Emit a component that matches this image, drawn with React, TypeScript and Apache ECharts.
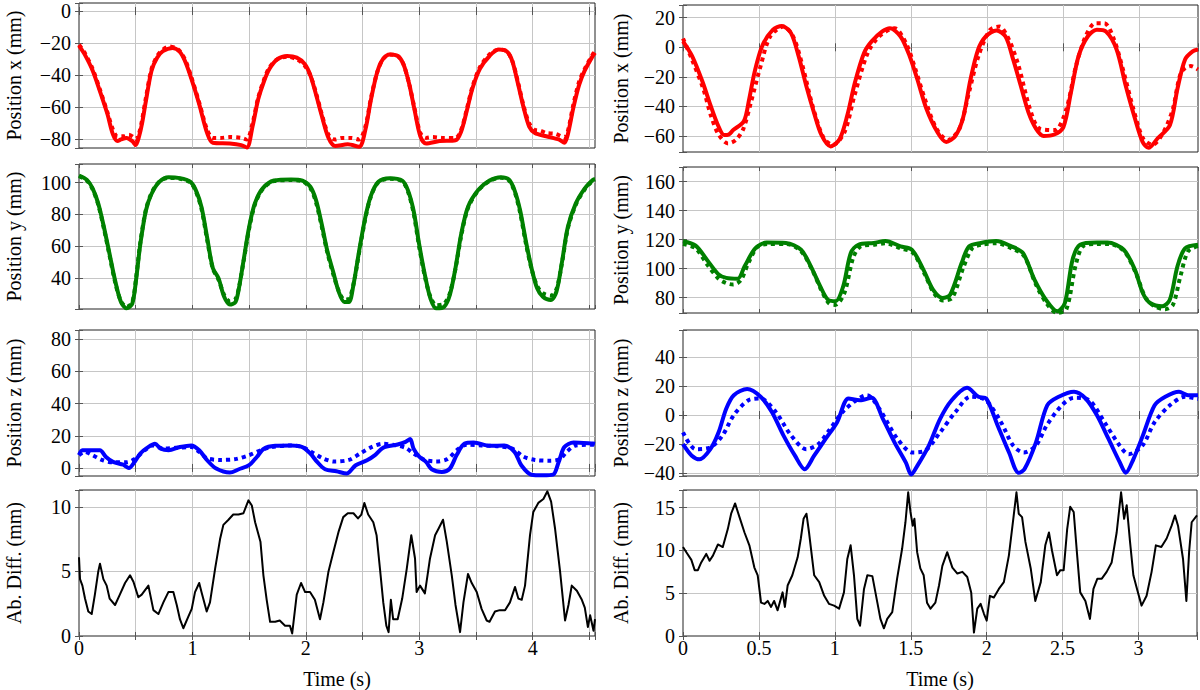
import React, { useEffect, useRef } from 'react';
import * as echarts from 'echarts';

type Pt = [number, number];

// ---------- Left column (0 – 4.55 s) ----------
const leftXSolid: Pt[] = [[0,-21.5],[0.05,-27],[0.12,-37],[0.185,-50],[0.25,-64],[0.3,-77],[0.34,-81],[0.37,-80],[0.42,-79],[0.47,-81],[0.5,-83.5],[0.53,-78],[0.556,-70],[0.59,-56],[0.64,-37],[0.69,-29],[0.74,-25],[0.825,-23],[0.89,-25.5],[0.94,-32],[0.99,-42],[1.06,-58],[1.13,-76],[1.18,-82],[1.33,-82.5],[1.43,-83.5],[1.48,-85],[1.53,-72],[1.58,-55],[1.63,-44],[1.68,-36],[1.75,-30],[1.835,-28],[1.92,-29],[1.99,-33],[2.04,-40],[2.09,-52],[2.14,-65],[2.2,-79],[2.26,-84],[2.37,-83],[2.47,-84.5],[2.525,-74],[2.575,-55],[2.63,-38],[2.68,-30],[2.74,-27],[2.81,-28],[2.86,-33],[2.91,-45],[2.96,-62],[3.01,-78],[3.06,-82.5],[3.18,-81],[3.32,-80.5],[3.37,-75],[3.42,-62],[3.47,-48],[3.535,-36],[3.62,-28],[3.7,-24],[3.77,-25],[3.82,-31],[3.87,-45],[3.92,-60],[3.97,-72],[4.02,-76],[4.12,-78],[4.23,-80],[4.28,-82],[4.31,-77],[4.36,-60],[4.41,-46],[4.46,-37],[4.53,-28],[4.55,-26]];
const leftXDotted: Pt[] = [[0,-21],[0.05,-26],[0.12,-36],[0.185,-49],[0.25,-63],[0.3,-74],[0.34,-78],[0.4,-78],[0.44,-77],[0.48,-78.5],[0.5,-80],[0.53,-76],[0.556,-68],[0.59,-54],[0.64,-36],[0.69,-28],[0.74,-24],[0.8,-22],[0.85,-23],[0.89,-25],[0.94,-31],[0.99,-41],[1.06,-57],[1.13,-74],[1.18,-79],[1.25,-79],[1.33,-78.5],[1.43,-79],[1.48,-80],[1.53,-70],[1.58,-54],[1.63,-43],[1.68,-35],[1.75,-30],[1.835,-28.5],[1.92,-30],[1.99,-34],[2.04,-40],[2.09,-51],[2.14,-64],[2.2,-77],[2.26,-80],[2.32,-79],[2.4,-79],[2.47,-80],[2.525,-72],[2.575,-54],[2.63,-38],[2.68,-30],[2.74,-27],[2.81,-28],[2.86,-33],[2.91,-45],[2.96,-61],[3.01,-76],[3.06,-79],[3.12,-78.5],[3.2,-79],[3.32,-79],[3.37,-74],[3.42,-61],[3.47,-47],[3.535,-35],[3.62,-27],[3.7,-24],[3.77,-25],[3.82,-31],[3.87,-44],[3.92,-59],[3.97,-70],[4.02,-74],[4.07,-74.5],[4.12,-76],[4.2,-76.5],[4.25,-78],[4.28,-79],[4.31,-75],[4.36,-58],[4.41,-44],[4.46,-36],[4.53,-27],[4.55,-25]];

const leftYSolid: Pt[] = [[0,104.5],[0.07,101.7],[0.12,96.4],[0.17,86.8],[0.22,72],[0.27,55],[0.32,38],[0.37,25],[0.42,21],[0.47,24],[0.505,40],[0.54,61],[0.59,82.5],[0.64,93],[0.71,100.6],[0.79,103.4],[0.89,102.8],[0.98,100.6],[1.03,95.3],[1.08,84.7],[1.13,65.5],[1.18,46.4],[1.23,40],[1.28,28.3],[1.33,23.4],[1.38,25],[1.41,33.6],[1.45,50.6],[1.5,72],[1.55,86.8],[1.62,96.4],[1.72,101.3],[1.87,102],[1.97,101.3],[2.04,97.4],[2.09,89],[2.14,74],[2.19,57],[2.24,44.3],[2.29,31.5],[2.34,25],[2.38,25],[2.42,35.7],[2.47,57],[2.525,78.3],[2.575,92],[2.64,100.6],[2.74,102.8],[2.85,101.3],[2.9,95.3],[2.95,82.5],[3.0,61],[3.05,42],[3.1,27],[3.15,21],[3.22,22],[3.27,29.4],[3.32,46.4],[3.37,67.7],[3.43,84.7],[3.52,95.3],[3.62,101.3],[3.72,103.4],[3.79,102],[3.84,95.3],[3.89,82.5],[3.94,63.4],[3.99,46.4],[4.04,33.6],[4.09,28.3],[4.16,26.2],[4.21,31.5],[4.26,50.6],[4.31,72],[4.38,86.8],[4.46,96.4],[4.53,101.7],[4.55,102.3]];
const leftYDotted: Pt[] = [[0,104],[0.07,101.2],[0.12,95.8],[0.17,86],[0.22,71],[0.27,54],[0.32,37],[0.37,25.5],[0.42,22],[0.47,25],[0.505,41],[0.54,62],[0.59,83],[0.64,93.5],[0.71,100.8],[0.79,103],[0.89,102.4],[0.98,100.2],[1.03,94.5],[1.08,83.5],[1.13,64],[1.18,46],[1.23,39],[1.28,29.5],[1.33,25.5],[1.38,27],[1.41,34],[1.45,50],[1.5,71],[1.55,86],[1.62,96],[1.72,101],[1.87,101.6],[1.97,100.8],[2.04,96.5],[2.09,87.5],[2.14,72.5],[2.19,56],[2.24,43],[2.29,32],[2.34,26.5],[2.38,27],[2.42,36],[2.47,56],[2.525,77.5],[2.575,91.5],[2.64,100.2],[2.74,102.4],[2.85,100.8],[2.9,94.5],[2.95,81],[3.0,59.5],[3.05,41],[3.1,28],[3.15,23],[3.22,24],[3.27,30.5],[3.32,46],[3.37,66.5],[3.43,84],[3.52,95],[3.62,101],[3.72,103],[3.79,101.5],[3.84,94.5],[3.89,81],[3.94,62],[3.99,46],[4.04,35],[4.09,30.5],[4.16,29],[4.21,33],[4.26,50],[4.31,71],[4.38,86],[4.46,95.8],[4.53,101.2],[4.55,101.8]];

const leftZSolid: Pt[] = [[0,8],[0.03,11],[0.12,11],[0.185,11],[0.236,7],[0.3,3.75],[0.39,2],[0.44,0],[0.49,3.75],[0.54,9],[0.61,13],[0.67,15],[0.72,12],[0.79,11],[0.89,13],[0.99,14],[1.06,11],[1.13,4.8],[1.21,-0.4],[1.33,-2.9],[1.41,-0.8],[1.5,1.7],[1.57,7],[1.63,12],[1.73,13.75],[1.87,14],[1.97,13],[2.04,9],[2.1,3.75],[2.17,-0.8],[2.27,-2],[2.36,-3.5],[2.44,1.7],[2.54,4.8],[2.61,8],[2.68,12.5],[2.81,14.6],[2.88,16.25],[2.92,18],[2.95,12],[3.0,7],[3.06,3.75],[3.11,-0.8],[3.2,-2.5],[3.27,-0.4],[3.33,8],[3.4,15.2],[3.48,15.8],[3.62,13.75],[3.75,14],[3.84,10],[3.9,1.7],[3.99,-4.2],[4.09,-4.6],[4.18,-4.2],[4.23,3.75],[4.28,13],[4.36,15.8],[4.53,15.2],[4.55,15]];
const leftZDotted: Pt[] = [[0,8],[0.05,10],[0.12,8],[0.2,5],[0.3,3.5],[0.42,3.5],[0.5,6],[0.58,11],[0.65,14],[0.75,12],[0.85,12.5],[0.99,13],[1.06,10],[1.13,6],[1.25,5],[1.38,5.5],[1.5,8],[1.6,11],[1.7,13],[1.87,14],[1.97,13],[2.05,10],[2.15,6],[2.25,4],[2.38,5],[2.48,9],[2.58,13],[2.68,15],[2.8,14],[2.88,12.5],[2.95,9],[3.05,5],[3.15,4],[3.25,5.5],[3.33,11],[3.42,14.5],[3.55,14],[3.7,13.5],[3.82,12],[3.92,7],[4.02,5],[4.15,4.5],[4.24,5.5],[4.3,10],[4.38,14],[4.55,14.5]];

const leftDiff: Pt[] = [[0,6.1],[0.009,4.4],[0.03,3.9],[0.053,2.9],[0.082,1.9],[0.112,1.7],[0.14,3.2],[0.17,5.0],[0.185,5.6],[0.215,4.4],[0.244,3.9],[0.27,2.9],[0.318,2.4],[0.36,3.2],[0.406,4.1],[0.45,4.7],[0.48,4.2],[0.523,3.0],[0.553,3.2],[0.612,3.9],[0.656,2.0],[0.7,1.7],[0.744,2.6],[0.788,3.4],[0.832,3.4],[0.862,2.4],[0.89,1.3],[0.92,0.6],[0.964,1.5],[0.994,2.1],[1.023,3.4],[1.06,4.1],[1.08,3.4],[1.126,1.9],[1.155,2.6],[1.2,5.2],[1.244,7.5],[1.273,8.6],[1.318,9.0],[1.36,9.4],[1.406,9.4],[1.45,9.5],[1.494,10.5],[1.524,10.1],[1.553,8.8],[1.6,7.3],[1.626,4.7],[1.655,2.8],[1.685,1.1],[1.73,1.1],[1.77,1.2],[1.817,0.8],[1.86,0.8],[1.88,0.2],[1.92,3.2],[1.958,4.1],[1.994,3.4],[2.037,3.4],[2.08,2.8],[2.125,1.3],[2.155,2.6],[2.2,5.0],[2.243,6.5],[2.29,8.1],[2.33,9.2],[2.37,9.5],[2.42,9.5],[2.46,9.1],[2.49,9.4],[2.516,10.3],[2.55,9.4],[2.595,8.8],[2.624,7.8],[2.654,5.2],[2.683,2.6],[2.71,0.8],[2.73,0.3],[2.75,2.8],[2.77,1.3],[2.81,1.3],[2.85,2.9],[2.89,5.2],[2.93,7.8],[2.963,6.0],[2.977,3.4],[3.007,3.9],[3.05,3.3],[3.095,6.0],[3.14,7.8],[3.17,8.3],[3.21,9.0],[3.243,7.3],[3.287,4.7],[3.32,2.4],[3.36,0.3],[3.39,2.6],[3.43,4.8],[3.463,4.1],[3.507,3.4],[3.55,2.1],[3.595,1.2],[3.62,1.1],[3.668,1.9],[3.71,2.0],[3.757,2.0],[3.8,2.6],[3.845,3.8],[3.874,2.9],[3.904,2.8],[3.933,3.9],[3.977,7.8],[4.006,9.6],[4.05,10.3],[4.095,10.6],[4.13,11.2],[4.163,10.4],[4.198,8.3],[4.242,5.0],[4.286,1.2],[4.316,2.4],[4.345,3.9],[4.39,3.5],[4.434,2.8],[4.46,2.2],[4.487,0.7],[4.507,1.6],[4.537,0.4],[4.55,1.3]];

// ---------- Right column (0 – 3.385 s) ----------
const rightXSolid: Pt[] = [[0,4],[0.06,-6],[0.13,-23.8],[0.18,-39],[0.23,-52.7],[0.27,-59.3],[0.3,-59],[0.33,-56],[0.4,-50],[0.435,-35],[0.47,-17],[0.52,0.7],[0.59,11.8],[0.65,14.4],[0.71,9.6],[0.76,-6],[0.81,-26],[0.86,-43.8],[0.91,-59.3],[0.97,-67],[1.03,-62],[1.08,-46],[1.13,-23.8],[1.19,-3.8],[1.24,4],[1.31,10.7],[1.36,12.9],[1.43,7.3],[1.49,-6],[1.54,-21.6],[1.6,-41.6],[1.67,-57],[1.73,-64],[1.79,-60],[1.84,-48],[1.89,-21.6],[1.94,-1.5],[1.99,7.3],[2.06,11.3],[2.12,7.3],[2.17,-8.2],[2.22,-26],[2.27,-43.8],[2.32,-55],[2.37,-60],[2.44,-59],[2.5,-54],[2.55,-30.4],[2.6,-6],[2.66,7.3],[2.72,11.8],[2.78,10.7],[2.85,-1.5],[2.91,-26],[2.97,-48],[3.02,-63.8],[3.06,-68],[3.12,-61.5],[3.2,-52.7],[3.25,-28],[3.3,-8.2],[3.35,-2.7],[3.385,-1.5]];
const rightXDotted: Pt[] = [[0,6],[0.058,-8],[0.133,-28],[0.183,-46],[0.234,-59],[0.296,-65],[0.347,-62.7],[0.397,-55],[0.447,-37],[0.51,-12.7],[0.573,7.3],[0.66,14],[0.724,7.3],[0.786,-12.7],[0.85,-39],[0.925,-61.5],[0.987,-66],[1.063,-57],[1.126,-33],[1.214,-3.8],[1.289,7.3],[1.39,12.9],[1.465,2.9],[1.528,-15],[1.59,-35],[1.666,-55],[1.741,-62.7],[1.817,-55],[1.88,-30.4],[1.942,-6],[2.018,11.8],[2.08,14],[2.143,5],[2.206,-12.7],[2.28,-41.6],[2.344,-55],[2.445,-56],[2.52,-41.6],[2.583,-12.7],[2.646,7.3],[2.709,16.2],[2.77,16.2],[2.834,5],[2.897,-17],[2.96,-41.6],[3.023,-61.5],[3.085,-66],[3.16,-57],[3.22,-41.6],[3.274,-17],[3.337,-12.7],[3.385,-15]];

const rightYSolid: Pt[] = [[0,118.9],[0.083,115.9],[0.158,106],[0.234,96],[0.284,93.6],[0.359,93],[0.405,101.6],[0.475,114],[0.55,118],[0.676,117.7],[0.776,113],[0.84,101.6],[0.902,87.8],[0.952,78.6],[1.003,77.5],[1.053,87.8],[1.103,110.8],[1.153,116.5],[1.254,117.7],[1.33,119],[1.43,115.4],[1.505,113],[1.58,99.3],[1.643,85.5],[1.706,79.8],[1.756,82],[1.832,104],[1.88,115.4],[1.957,117.7],[2.058,119],[2.158,115.4],[2.234,110.8],[2.31,92.4],[2.385,78.6],[2.46,70.6],[2.51,76.3],[2.56,106],[2.61,116.5],[2.72,118],[2.79,118],[2.897,113],[2.97,99.3],[3.023,83],[3.07,76.3],[3.15,74],[3.2,78.6],[3.25,101.6],[3.3,114],[3.385,116.5]];
const rightYDotted: Pt[] = [[0,117],[0.083,114],[0.158,103],[0.234,93],[0.284,90],[0.33,89],[0.38,92],[0.43,104],[0.49,115],[0.56,117],[0.68,117],[0.776,112],[0.85,99],[0.91,85],[0.96,76],[1.0,75],[1.06,83],[1.12,108],[1.17,115.5],[1.26,116.5],[1.33,117.5],[1.43,114],[1.51,111],[1.59,96],[1.65,83],[1.71,78],[1.77,80],[1.84,100],[1.9,114],[1.96,116.5],[2.06,117.5],[2.16,114],[2.24,109],[2.32,89],[2.39,76],[2.46,69.5],[2.52,72],[2.58,102],[2.63,115.5],[2.72,117],[2.8,117],[2.9,112],[2.98,96],[3.04,80],[3.1,74],[3.17,72],[3.22,75],[3.27,95],[3.32,112],[3.385,115.5]];

const rightZSolid: Pt[] = [[0,-20],[0.058,-28],[0.108,-30.5],[0.18,-23.5],[0.234,-11.9],[0.284,4.4],[0.334,13.7],[0.422,17.9],[0.51,12.6],[0.585,2],[0.66,-14],[0.736,-28],[0.8,-37.4],[0.862,-28],[0.937,-16.5],[1.013,-4.9],[1.088,11.4],[1.163,10.2],[1.239,11.9],[1.314,-2.6],[1.39,-18.8],[1.465,-32.8],[1.5,-41],[1.54,-35],[1.616,-21],[1.69,-2.6],[1.766,10.2],[1.867,18.8],[1.942,12.6],[1.993,11.4],[2.068,-7.2],[2.143,-25.8],[2.206,-39.8],[2.244,-37.4],[2.32,-18.8],[2.394,6.7],[2.47,12.6],[2.57,16],[2.646,11.4],[2.72,0],[2.797,-16.5],[2.872,-32.8],[2.91,-39.8],[2.96,-30.5],[3.023,-14],[3.1,6.7],[3.17,12.6],[3.26,16],[3.32,13.7],[3.385,13.7]];
const rightZDotted: Pt[] = [[0,-11.9],[0.083,-23.5],[0.18,-22.3],[0.26,-14],[0.334,0],[0.43,10.2],[0.51,11.4],[0.61,2],[0.71,-14],[0.81,-23.5],[0.89,-20],[0.96,-10.7],[1.06,3.3],[1.21,13.7],[1.29,4.4],[1.41,-16.5],[1.51,-25.8],[1.59,-24.6],[1.69,-11.9],[1.79,2],[1.89,12.6],[1.99,10.2],[2.09,-4.9],[2.17,-21],[2.24,-25.8],[2.32,-21],[2.39,-7.2],[2.49,6.7],[2.57,11.9],[2.67,10.2],[2.77,-4.9],[2.87,-21],[2.93,-27],[3.02,-21],[3.1,-4.9],[3.2,6.7],[3.3,12.6],[3.385,11]];

const rightDiff: Pt[] = [[0,10.4],[0.022,9.8],[0.055,8.9],[0.077,7.7],[0.098,7.7],[0.12,8.6],[0.153,9.6],[0.175,8.8],[0.197,9.4],[0.23,10.7],[0.262,10.4],[0.295,12.5],[0.317,14.3],[0.343,15.5],[0.372,13.9],[0.405,12.1],[0.437,10.6],[0.47,8.0],[0.492,7.1],[0.514,3.9],[0.536,3.75],[0.558,4.1],[0.58,3.4],[0.6,4.1],[0.623,3.0],[0.656,5.1],[0.671,3.4],[0.689,5.9],[0.72,7.1],[0.755,9.2],[0.776,11.4],[0.794,13.7],[0.813,14.3],[0.83,12.1],[0.864,7.1],[0.897,6.3],[0.93,4.7],[0.962,3.75],[0.995,3.55],[1.028,3.2],[1.06,5.1],[1.082,9.0],[1.104,10.6],[1.126,7.1],[1.148,2.0],[1.166,1.2],[1.192,5.5],[1.214,7.1],[1.247,7.0],[1.28,3.9],[1.3,2.0],[1.323,0.9],[1.345,2.0],[1.378,2.8],[1.41,6.7],[1.443,10.2],[1.465,13.3],[1.483,16.8],[1.498,14.5],[1.513,12.9],[1.524,13.7],[1.542,9.8],[1.563,7.9],[1.585,7.1],[1.607,3.9],[1.63,3.2],[1.662,3.9],[1.686,5.9],[1.708,8.2],[1.74,9.8],[1.774,8.0],[1.807,7.3],[1.84,7.5],[1.872,6.9],[1.898,5.1],[1.916,0.4],[1.938,3.2],[1.96,3.75],[1.982,2.6],[2.0,1.8],[2.021,4.7],[2.047,4.5],[2.08,5.5],[2.113,6.3],[2.146,9.4],[2.178,14.1],[2.196,16.8],[2.211,14.3],[2.233,13.9],[2.255,11.0],[2.29,7.9],[2.32,4.1],[2.356,6.3],[2.386,10.6],[2.41,12.1],[2.43,10.0],[2.463,7.1],[2.485,7.7],[2.507,7.7],[2.53,12.5],[2.55,15.1],[2.573,14.5],[2.594,9.8],[2.616,5.1],[2.65,4.1],[2.68,2.0],[2.703,5.5],[2.729,6.7],[2.758,6.7],[2.79,7.5],[2.823,8.6],[2.856,12.1],[2.885,16.8],[2.905,13.7],[2.922,15.3],[2.944,11.0],[2.966,7.1],[2.993,5.3],[3.02,3.55],[3.053,4.7],[3.086,7.5],[3.114,10.6],[3.15,10.4],[3.185,11.4],[3.218,12.9],[3.24,14.1],[3.26,12.9],[3.293,9.0],[3.315,4.1],[3.333,9.8],[3.35,13.3],[3.385,14.1]];

// ---------- Axis text ----------
const TIME_LABEL = 'Time (s)';
const Y_NAMES = ['Position x (mm)', 'Position y (mm)', 'Position z (mm)', 'Ab. Diff. (mm)'];

const RED = '#ff0000';
const GREEN = '#008000';
const BLUE = '#0000ff';
const BLACK = '#000000';
const GRIDC = '#c6c6c6';
const FONT = 'Liberation Serif';
const FS = 20;      // axis titles
const TICK_FS = 20; // tick labels

interface LineDef { data: Pt[]; color: string; dotted?: boolean; width: number; smooth: number | boolean; }
interface PanelDef { left: number; top: number; width: number; height: number; xMax: number; yMin: number; yMax: number; yStep: number; name: string; bottom: boolean; col: 'L' | 'R'; lines: LineDef[]; nameGap: number; }

const L = { left: 79, width: 516, xMax: 4.55, col: 'L' as const, nameGap: 55 };
const R = { left: 683, width: 515, xMax: 3.385, col: 'R' as const, nameGap: 52 };

const panels: PanelDef[] = [
  { ...L, top: 3, height: 145, yMin: -85.3, yMax: 5, yStep: 20, name: Y_NAMES[0], bottom: false,
    lines: [{ data: leftXSolid, color: RED, width: 4, smooth: 0.3 }, { data: leftXDotted, color: RED, dotted: true, width: 4, smooth: 0.3 }] },
  { ...L, top: 164, height: 145, yMin: 20.6, yMax: 111.7, yStep: 20, name: Y_NAMES[1], bottom: false,
    lines: [{ data: leftYSolid, color: GREEN, width: 4, smooth: 0.3 }, { data: leftYDotted, color: GREEN, dotted: true, width: 4, smooth: 0.3 }] },
  { ...L, top: 330, height: 146, yMin: -5, yMax: 85.8, yStep: 20, name: Y_NAMES[2], bottom: false,
    lines: [{ data: leftZSolid, color: BLUE, width: 4, smooth: 0.3 }, { data: leftZDotted, color: BLUE, dotted: true, width: 4, smooth: 0.3 }] },
  { ...L, top: 490, height: 146, yMin: 0, yMax: 11.3, yStep: 5, name: Y_NAMES[3], bottom: true,
    lines: [{ data: leftDiff, color: BLACK, width: 2, smooth: false }] },
  { ...R, top: 5, height: 147, yMin: -70.8, yMax: 28.6, yStep: 20, name: Y_NAMES[0], bottom: false,
    lines: [{ data: rightXSolid, color: RED, width: 4, smooth: 0.3 }, { data: rightXDotted, color: RED, dotted: true, width: 4, smooth: 0.3 }] },
  { ...R, top: 167, height: 146, yMin: 69.4, yMax: 170.1, yStep: 20, name: Y_NAMES[1], bottom: false,
    lines: [{ data: rightYSolid, color: GREEN, width: 4, smooth: 0.3 }, { data: rightYDotted, color: GREEN, dotted: true, width: 4, smooth: 0.3 }] },
  { ...R, top: 330, height: 146, yMin: -42, yMax: 58.6, yStep: 20, name: Y_NAMES[2], bottom: false,
    lines: [{ data: rightZSolid, color: BLUE, width: 4, smooth: 0.3 }, { data: rightZDotted, color: BLUE, dotted: true, width: 4, smooth: 0.3 }] },
  { ...R, top: 490, height: 146, yMin: 0, yMax: 17.07, yStep: 5, name: Y_NAMES[3], bottom: true,
    lines: [{ data: rightDiff, color: BLACK, width: 2, smooth: false }] },
];

const isMult = (v: number, s: number) => Math.abs(v / s - Math.round(v / s)) < 1e-6;
const fmtNum = (v: number) => (v < 0 ? '\u2212' + String(Math.abs(v)) : String(v));

function buildOption() {
  const grid: any[] = [];
  const xAxis: any[] = [];
  const yAxis: any[] = [];
  const series: any[] = [];
  const tick = { show: true, inside: true, length: 4, lineStyle: { color: '#555', width: 1 } };
  panels.forEach((p, i) => {
    grid.push({ left: p.left, top: p.top, width: p.width, height: p.height, show: true, borderColor: '#222', borderWidth: 1, backgroundColor: 'transparent' });
    const xStep = 0.5;
    xAxis.push({
      type: 'value', gridIndex: i, position: 'bottom', min: 0, max: p.xMax, interval: xStep,
      axisLine: { show: false }, axisTick: tick,
      splitLine: { show: true, showMinLine: false, showMaxLine: false, lineStyle: { color: GRIDC, width: 1 } },
      axisLabel: {
        show: p.bottom, color: '#000', fontFamily: FONT, fontSize: TICK_FS, margin: 2, showMinLabel: true,
        formatter: (v: number) => {
          if (p.col === 'L') return isMult(v, 1) ? String(Math.round(v)) : '';
          return isMult(v, 0.5) ? String(v) : '';
        },
      },
      name: p.bottom ? TIME_LABEL : '', nameLocation: 'middle', nameGap: 33,
      nameTextStyle: { color: '#000', fontFamily: FONT, fontSize: FS },
    });
    xAxis.push({
      type: 'value', gridIndex: i, position: 'top', min: 0, max: p.xMax, interval: xStep,
      axisLine: { show: false }, axisTick: tick, splitLine: { show: false }, axisLabel: { show: false },
    });
    yAxis.push({
      type: 'value', gridIndex: i, position: 'left', min: p.yMin, max: p.yMax,
      minInterval: p.yStep, maxInterval: p.yStep, splitNumber: 5,
      axisLine: { show: false }, axisTick: tick,
      splitLine: { show: true, showMinLine: false, showMaxLine: false, lineStyle: { color: GRIDC, width: 1 } },
      axisLabel: {
        color: '#000', fontFamily: FONT, fontSize: TICK_FS, margin: 8,
        formatter: (v: number) => (isMult(v, p.yStep) ? fmtNum(Math.round(v)) : ''),
      },
      name: p.name, nameLocation: 'middle', nameGap: p.nameGap, nameRotate: 90,
      nameTextStyle: { color: '#000', fontFamily: FONT, fontSize: FS },
    });
    yAxis.push({
      type: 'value', gridIndex: i, position: 'right', min: p.yMin, max: p.yMax,
      minInterval: p.yStep, maxInterval: p.yStep, splitNumber: 5,
      axisLine: { show: false }, axisTick: tick, splitLine: { show: false }, axisLabel: { show: false },
    });
    p.lines.forEach((ln) => {
      series.push({
        type: 'line', xAxisIndex: 2 * i, yAxisIndex: 2 * i, data: ln.data,
        showSymbol: false, symbol: 'none', smooth: ln.smooth, clip: true,
        lineStyle: { color: ln.color, width: ln.width, type: ln.dotted ? [4, 4] : 'solid', cap: 'butt', join: 'round' },
        itemStyle: { color: ln.color }, z: ln.dotted ? 3 : 2,
      });
    });
  });
  return { animation: false, backgroundColor: '#ffffff', textStyle: { fontFamily: FONT, fontSize: TICK_FS }, grid, xAxis, yAxis, series };
}

export default function App() {
  const ref = useRef<HTMLDivElement>(null);
  useEffect(() => {
    if (!ref.current) return;
    const chart = echarts.init(ref.current, undefined, { renderer: 'svg' });
    chart.setOption(buildOption() as any);
    return () => chart.dispose();
  }, []);
  return <div ref={ref} style={{ position: 'absolute', left: 0, top: 0, width: 1200, height: 690, background: '#fff' }} />;
}
